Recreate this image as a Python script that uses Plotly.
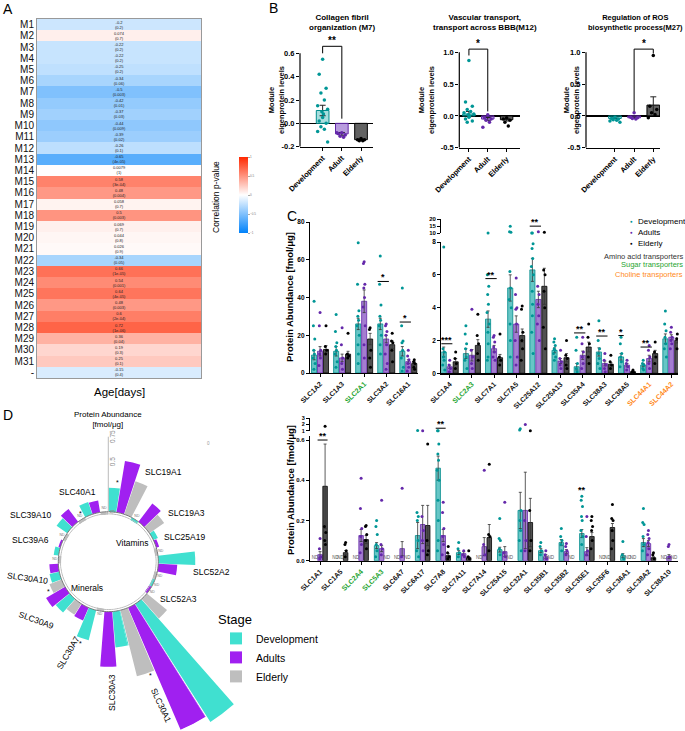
import math
import plotly.graph_objects as go

W, H = 685, 731
FONT = "Liberation Sans"


def fx(x):
    return x / W


def fy(y):
    return 1 - y / H


def dx(a, b):
    return [max(0, fx(a)), min(1, fx(b))]


def dy(top, bottom):
    return [max(0, fy(bottom)), min(1, fy(top))]


# ---------------- Panel A data ----------------
modules = [f"M{i}" for i in range(1, 32)] + ["-"]
corr = [-0.20, 0.074, -0.22, -0.22, -0.25, -0.34, -0.5, -0.42, -0.37, -0.44, -0.39, -0.26, -0.65, 0.0079,
        0.58, 0.48, 0.058, 0.5, 0.069, 0.044, 0.026, -0.34, 0.66, 0.54, 0.64, 0.48, 0.6, 0.72,
        0.36, 0.19, 0.25, -0.15]
pval = ["0.2", "0.7", "0.2", "0.2", "0.2", "0.06", "0.003", "0.01", "0.03", "0.009", "0.02", "0.1", "4e-05", "1",
        "3e-04", "0.004", "0.7", "0.003", "0.7", "0.8", "0.9", "0.05", "1e-05", "0.001", "4e-05", "0.003", "2e-04",
        "1e-06", "0.04", "0.3", "0.1", "0.4"]

# ---------------- Panel B data ----------------
b_groups = ["Development", "Adult", "Elderly"]
b_titles = ["Collagen fibril<br>organization (M7)", "Vascular transport,<br>transport across BBB(M12)",
            "Regulation of ROS<br>biosynthetic process(M27)"]
b1_mean = [0.11, -0.09, -0.14]
b1_sem = [0.045, 0.012, 0.006]
b1_dev = [0.55, 0.42, 0.30, 0.26, 0.20, 0.15, 0.12, 0.10, 0.08, 0.05, 0.02, 0.0, -0.03, -0.05, -0.07, -0.16]
b1_adult = [-0.08, -0.09, -0.10, -0.11, -0.12, -0.08]
b1_eld = [-0.13, -0.14, -0.14, -0.15, -0.15]
b2_mean = [0.03, -0.05, -0.06]
b2_sem = [0.04, 0.025, 0.02]
b2_dev = [0.87, 0.22, 0.15, 0.10, 0.07, 0.05, 0.03, 0.02, 0.0, -0.02, -0.05, -0.08, -0.10]
b2_adult = [0.02, -0.03, -0.05, -0.07, -0.10, -0.18]
b2_eld = [-0.03, -0.05, -0.07, -0.10, -0.16]
b3_mean = [-0.04, -0.03, 0.17]
b3_sem = [0.005, 0.01, 0.13]
b3_dev = [-0.02, -0.04, -0.05, -0.06, -0.07, -0.08, -0.10]
b3_adult = [0.05, -0.02, -0.03, -0.04, -0.05]
b3_eld = [0.95, 0.15, 0.10, 0.05, 0.02, -0.03]
# (from group, to group, left leg end, bracket height, right leg end, label)
b1_sig = (0, 1, 0.60, 0.66, 0.04, "**")
b2_sig = (0, 1, 0.95, 1.05, 0.07, "*")
b3_sig = (1, 2, 0.07, 1.05, 0.98, "*")

# ---------------- Panel C data ----------------
c_stages = ["Development", "Adults", "Elderly"]
c1_genes = ["SLC1A2", "SLC1A3", "SLC2A1", "SLC3A2", "SLC16A1"]
c1_mean_dev = [9.5, 11.5, 26, 26, 11.5]
c1_sem_dev = [2.5, 2.5, 3, 3, 2.5]
c1_mean_adult = [11.5, 8, 38, 18, 6]
c1_sem_adult = [2.5, 2, 6, 2, 1]
c1_mean_eld = [12.5, 10, 18, 15, 5]
c1_sem_eld = [2, 1.5, 3, 2, 1]
c1_pts_dev = [[38, 25, 18, 12, 10, 8, 5, 2], [31, 22, 16, 14, 12, 10, 6, 3],
              [69, 47, 33, 30, 28, 25, 20, 15, 10, 5], [62, 47, 36, 30, 28, 25, 20, 15, 10],
              [45, 25, 17, 16, 12, 8, 3, 1]]
c1_pts_adult = [[32, 25, 12, 10, 8, 4], [24, 15, 8, 5, 2], [59, 58, 47, 45, 40, 35, 25, 15, 8],
                [26, 25, 22, 20, 15, 10, 5, 2], [12, 9, 7, 5, 3, 1]]
c1_pts_eld = [[25, 14, 12, 10], [21, 10, 9, 8], [24, 23, 12, 8, 3], [21, 17, 16, 12, 6], [7, 6, 5, 3, 2]]
c1_sig = [("SLC3A2", 0, 1, 48.5, "*"), ("SLC16A1", 0, 1, 27, "*")]

c2_genes = ["SLC1A4", "SLC2A3", "SLC7A1", "SLC7A5", "SLC25A12", "SLC25A13", "SLC35A4", "SLC38A3", "SLC38A5",
            "SLC44A1", "SLC44A2"]
c2_mean_dev = [1.3, 1.2, 3.3, 5.2, 6.3, 1.4, 0.4, 1.3, 1.0, 0.5, 2.1]
c2_sem_dev = [0.3, 0.3, 0.5, 0.8, 0.7, 0.15, 0.2, 0.25, 0.2, 0.1, 0.3]
c2_mean_adult = [0.4, 1.1, 1.5, 3.0, 4.5, 0.75, 1.1, 0.6, 0.5, 0.9, 2.2]
c2_sem_adult = [0.1, 0.35, 0.2, 0.5, 0.5, 0.15, 0.25, 0.15, 0.1, 0.2, 0.15]
c2_mean_eld = [0.7, 1.7, 0.95, 2.3, 5.3, 0.95, 1.6, 0.55, 0.1, 1.2, 2.0]
c2_sem_eld = [0.2, 0.35, 0.2, 0.4, 1.1, 0.25, 0.3, 0.1, 0.05, 0.2, 0.15]
c2_pts_dev = [[7.7, 1.5, 1.3, 1.0, 0.8, 0.5, 0.2], [2.9, 2.4, 1.8, 1.5, 1.0, 0.8, 0.3],
              [10, 6.0, 5.3, 4.8, 4.2, 3.7, 3.0, 2.5, 1.8, 1.0, 0.8], [15, 11, 10.5, 6.2, 5.2, 4.5, 4.0, 3.0, 2.0, 1.0],
              [10, 10, 7.9, 7.6, 7.0, 6.5, 6.0, 5.0, 4.2, 3.5, 2.5, 1.2], [2.1, 1.9, 1.7, 1.5, 1.4, 1.2, 1.0, 0.8],
              [2.2, 1.4, 0.6, 0.3, 0.1], [3.2, 2.0, 1.5, 1.2, 0.9, 0.6, 0.3], [2.2, 1.8, 1.2, 1.0, 0.7, 0.4],
              [0.8, 0.6, 0.5, 0.3, 0.2], [3.8, 3.0, 2.6, 2.2, 1.8, 1.5, 1.0]]
c2_pts_adult = [[0.8, 0.5, 0.3, 0.1], [3.9, 1.4, 1.0, 0.6, 0.3], [2.3, 2.2, 1.9, 1.6, 1.3, 1.0, 0.8],
                [5.8, 4.8, 4.0, 3.9, 3.0, 2.0, 1.0, 0.5], [11, 5.3, 4.8, 4.2, 3.5, 3.0, 2.0], [1.4, 0.9, 0.7, 0.5, 0.3],
                [2.2, 1.8, 1.3, 1.0, 0.6, 0.3], [1.2, 0.8, 0.5, 0.3, 0.1], [0.8, 0.6, 0.4, 0.2],
                [1.7, 1.4, 1.0, 0.6, 0.3], [2.8, 2.5, 2.2, 2.0, 1.8, 1.5]]
c2_pts_eld = [[1.3, 0.9, 0.6, 0.3], [3.6, 2.3, 1.8, 1.2, 0.8], [2.4, 1.0, 0.8, 0.5], [4.1, 3.9, 2.5, 2.0, 1.5, 0.8],
              [10.5, 6.3, 6.0, 5.0, 4.0, 2.8, 1.5], [2.0, 1.1, 0.9, 0.5, 0.3], [3.0, 2.2, 1.8, 1.0, 0.6],
              [1.1, 0.7, 0.5, 0.3], [0.2, 0.1, 0.05], [1.9, 1.3, 1.0, 0.6], [2.4, 2.1, 1.8, 1.5]]
c2_sig = [("SLC1A4", 0, 1, 1.8, "***", False), ("SLC7A1", 0, 1, 5.77, "**", False),
          ("SLC25A12", 0, 1, 15, "**", True), ("SLC35A4", 0, 1, 2.46, "**", False),
          ("SLC38A3", 0, 1, 2.27, "**", False), ("SLC38A5", 0, 0, 2.3, "*", False),
          ("SLC44A1", 0, 1, 1.6, "**", False)]

c3_genes = ["SLC1A1", "SLC1A5", "SLC2A4", "SLC5A3", "SLC6A7", "SLC6A17", "SLC7A8", "SLC7A11", "SLC7A14",
            "SLC25A15", "SLC32A1", "SLC35B1", "SLC35B2", "SLC35E1", "SLC35F6", "SLC36A1", "SLC38A2", "SLC38A10"]
c3_mean_dev = [None, None, None, 0.075, None, 0.125, 0.46, 0.04, None, 0.055, 0.25, 0.05, 0.09, 0.135, None, 0.025,
               0.09, None]
c3_sem_dev = [None, None, None, 0.015, None, 0.065, 0.06, 0.01, None, 0.012, 0.09, 0.01, 0.015, 0.02, None, 0.01,
              0.02, None]
c3_mean_adult = [0.03, None, 0.125, 0.06, 0.06, 0.18, 0.125, 0.035, 0.07, 0.045, 0.25, 0.02, 0.045, 0.045, None,
                 None, 0.085, 0.02]
c3_sem_adult = [0.015, None, 0.03, 0.015, 0.035, 0.095, 0.03, 0.01, 0.045, 0.025, 0.19, 0.01, 0.01, 0.02, None,
                None, 0.015, 0.01]
c3_mean_eld = [0.37, 0.04, 0.105, None, None, 0.175, 0.025, 0.015, 0.115, None, 0.19, None, None, 0.12, 0.165,
               None, 0.015, None]
c3_sem_eld = [0.21, 0.01, 0.02, None, None, 0.1, 0.01, 0.005, 0.065, None, 0.12, None, None, 0.02, 0.02, None,
              0.005, None]
c3_pts_dev = [[], [], [], [0.2, 0.17, 0.13, 0.08, 0.05, 0.02], [], [1.05, 0.24, 0.22, 0.2, 0.1, 0.05, 0.02],
              [1.0, 1.0, 0.58, 0.53, 0.5, 0.45, 0.4, 0.3, 0.2, 0.1, 0.05], [0.09, 0.06, 0.04, 0.02], [],
              [0.21, 0.11, 0.1, 0.06, 0.03], [1.3, 1.1, 0.25, 0.2, 0.15, 0.1, 0.05], [0.09, 0.07, 0.05, 0.03],
              [0.16, 0.12, 0.1, 0.08, 0.05], [0.32, 0.3, 0.27, 0.22, 0.2, 0.15, 0.12, 0.08], [],
              [0.095, 0.03, 0.01], [0.26, 0.19, 0.18, 0.12, 0.08, 0.05], []]
c3_pts_adult = [[0.11, 0.06, 0.02, 0.01], [], [0.41, 0.26, 0.16, 0.12, 0.08, 0.04], [0.3, 0.08, 0.06, 0.03],
                [0.36, 0.02], [1.0, 0.22, 0.15, 0.1, 0.05], [0.29, 0.24, 0.16, 0.12, 0.08, 0.03], [0.05, 0.03, 0.02],
                [0.45, 0.08, 0.03], [0.29, 0.04, 0.02], [2.0, 0.2, 0.1, 0.05], [0.05, 0.03, 0.01],
                [0.085, 0.07, 0.05, 0.03], [0.22, 0.12, 0.05, 0.03], [], [], [0.15, 0.13, 0.11, 0.09, 0.06, 0.03],
                [0.08, 0.07, 0.02]]
c3_pts_eld = [[1.7, 0.17, 0.14, 0.1, 0.08], [0.09, 0.08, 0.05, 0.02], [0.175, 0.17, 0.13, 0.1, 0.06], [], [],
              [0.58, 0.1, 0.05, 0.03], [0.07, 0.04, 0.02, 0.01], [0.05, 0.02, 0.01], [0.48, 0.13, 0.12, 0.05], [],
              [1.0, 0.25, 0.1, 0.05], [], [], [0.22, 0.2, 0.17, 0.15, 0.1, 0.06], [0.28, 0.21, 0.2, 0.15, 0.1, 0.06],
              [], [0.04, 0.03, 0.01], []]
c3_sig = [("SLC1A1", 1, 2, 0.6, "**", False, True), ("SLC7A8", 0, 1, 1.4, "**", True, True),
          ("SLC35E1", 0, 0, 0.33, "**", False, False)]

sugar_genes = {"SLC2A1", "SLC2A3", "SLC2A4", "SLC5A3"}
choline_genes = {"SLC44A1", "SLC44A2"}

# ---------------- Panel D data ----------------
d_genes = ["SLC19A1", "SLC19A3", "SLC25A19", "SLC52A2", "SLC52A3", "SLC30A1", "SLC30A3", "SLC30A7", "SLC30A9",
           "SLC30A10", "SLC39A6", "SLC39A10", "SLC40A1"]
d_stages = ["Development", "Adults", "Elderly"]
d_dev = [0.24, None, 0.05, 0.37, None, 1.40, 0.36, 0.31, 0.18, 0.10, 0.05, 0.13, 0.13]
d_adult = [0.52, 0.23, 0.03, 0.19, None, 1.33, 0.55, 0.14, 0.22, 0.09, 0.02, 0.16, 0.12]
d_eld = [0.35, 0.18, None, None, 0.26, 0.68, None, 0.13, 0.13, None, None, None, None]
d_radial_ticks = [0, 0.5, 0.75]

# ---------------- styling ----------------
TEAL = "rgb(0,150,150)"
PURP = "rgb(100,40,170)"
BLK = "rgb(0,0,0)"
GREEN = "#1fa531"
ORANGE = "#ff8a1c"
pt_col = [TEAL, PURP, BLK]
b_fill = ["rgba(0,160,160,0.35)", "rgba(125,75,195,0.55)", "rgba(90,90,90,0.95)"]
b_edge = ["rgb(0,140,140)", "rgb(100,40,170)", "rgb(0,0,0)"]
c_fill = ["rgba(0,160,160,0.6)", "rgba(115,55,185,0.65)", "rgba(65,65,65,0.92)"]
d_col = ["#40E0D0", "#A020F0", "#BEBEBE"]
JIT = [0, -0.09, 0.09, -0.045, 0.045, -0.13, 0.13, -0.02, 0.02]

fig = go.Figure()
ann = []
shapes = []


def T(x, y, text, size=9, color="black", bold=False, angle=0, xanchor="center", yanchor="middle", align="center"):
    ann.append(dict(x=fx(x), y=fy(y), xref="paper", yref="paper",
                    text=(f"<b>{text}</b>" if bold else text), showarrow=False,
                    font=dict(size=size, color=color, family=FONT), textangle=angle,
                    xanchor=xanchor, yanchor=yanchor, align=align))


# ================= Panel A =================
fig.add_trace(go.Heatmap(
    z=[[c] for c in corr], x=["Age"], y=modules,
    text=[[f"{c:.2g}<br>({p})"] for c, p in zip(corr, pval)], texttemplate="%{text}",
    textfont=dict(size=4, color="#222", family=FONT),
    colorscale=[[0, "rgb(0,130,250)"], [0.5, "rgb(255,255,255)"], [1, "rgb(255,40,0)"]],
    zmin=-1, zmax=1, hoverinfo="skip",
    colorbar=dict(x=fx(229), xanchor="left", y=fy(195), yanchor="middle", len=96 / H, lenmode="fraction",
                  thickness=9, outlinewidth=0, tickvals=[-1, -0.5, 0, 0.5, 1],
                  tickfont=dict(size=3, color="#777"), ticks="outside", ticklen=2, tickcolor="#aaa"),
    xaxis="x", yaxis="y"))

# ================= Panel B =================
b_axes = [("x2", "y2"), ("x3", "y3"), ("x4", "y4")]
b_means = [b1_mean, b2_mean, b3_mean]
b_sems = [b1_sem, b2_sem, b3_sem]
b_pts = [[b1_dev, b1_adult, b1_eld], [b2_dev, b2_adult, b2_eld], [b3_dev, b3_adult, b3_eld]]
b_sigs = [b1_sig, b2_sig, b3_sig]
for k, (xa, ya) in enumerate(b_axes):
    fig.add_trace(go.Bar(x=[0, 1, 2], y=b_means[k], width=0.66, xaxis=xa, yaxis=ya,
                         marker=dict(color=b_fill, line=dict(color=b_edge, width=1)),
                         error_y=dict(type="data", array=b_sems[k], color="#222", thickness=1, width=3),
                         showlegend=False, hoverinfo="skip"))
    for s in range(3):
        vals = b_pts[k][s]
        fig.add_trace(go.Scatter(x=[s + JIT[j % len(JIT)] * 2.0 for j in range(len(vals))], y=vals,
                                 mode="markers", marker=dict(size=3.5, color=pt_col[s]), xaxis=xa, yaxis=ya,
                                 showlegend=False, cliponaxis=False, hoverinfo="skip"))
    g0, g1, yl, yt, yr, lab = b_sigs[k]
    fig.add_trace(go.Scatter(x=[g0, g0, g1, g1], y=[yl, yt, yt, yr], mode="lines",
                             line=dict(color="black", width=1), xaxis=xa, yaxis=ya, showlegend=False,
                             cliponaxis=False, hoverinfo="skip"))
    ann.append(dict(x=(g0 + g1) / 2, y=yt, xref=xa, yref=ya, text=f"<b>{lab}</b>", showarrow=False,
                    yanchor="bottom", yshift=-2, font=dict(size=10, family=FONT)))

# ================= Panel C =================
def glab(g):
    col = GREEN if g in sugar_genes else (ORANGE if g in choline_genes else "#111")
    return f"<span style='color:{col}'>{g}</span>"


def c_panel(genes, means, sems, pts, xa, ya, ya_up, thr, offs, width, nd_y):
    for s in range(3):
        xs = [i + offs[s] for i in range(len(genes))]
        fig.add_trace(go.Bar(x=xs, y=means[s], width=width, xaxis=xa, yaxis=ya,
                             marker=dict(color=c_fill[s], line=dict(color=b_edge[s], width=0.8)),
                             error_y=dict(type="data", array=sems[s], color="#333", thickness=0.8, width=1.5),
                             showlegend=False, hoverinfo="skip"))
        lo_x, lo_y, up_x, up_y = [], [], [], []
        for i, vals in enumerate(pts[s]):
            for j, v in enumerate(vals):
                xv = i + offs[s] + JIT[j % len(JIT)] * 0.35
                if thr is not None and v > thr:
                    up_x.append(xv)
                    up_y.append(v)
                else:
                    lo_x.append(xv)
                    lo_y.append(v)
        fig.add_trace(go.Scatter(x=lo_x, y=lo_y, mode="markers", marker=dict(size=3, color=pt_col[s]),
                                 xaxis=xa, yaxis=ya, showlegend=False, cliponaxis=False, hoverinfo="skip"))
        if up_x:
            fig.add_trace(go.Scatter(x=up_x, y=up_y, mode="markers", marker=dict(size=3, color=pt_col[s]),
                                     xaxis=xa, yaxis=ya_up, showlegend=False, cliponaxis=False,
                                     hoverinfo="skip"))
        nd_x = [i + offs[s] for i, m in enumerate(means[s]) if m is None]
        if nd_x and nd_y is not None:
            fig.add_trace(go.Scatter(x=nd_x, y=[nd_y] * len(nd_x), mode="text", text=["ND"] * len(nd_x),
                                     textfont=dict(size=4.5, color="#555", family=FONT), xaxis=xa, yaxis=ya,
                                     showlegend=False, cliponaxis=False, hoverinfo="skip"))


def c_sig(genes, sig, offs, xa, ya, ya_up):
    for item in sig:
        g, s0, s1, yv, lab, up = item[:6]
        draw_line = item[6] if len(item) > 6 else True
        i = genes.index(g)
        yax = ya_up if up else ya
        x0 = i + offs[s0] - 0.12
        x1 = i + offs[s1] + 0.12
        if draw_line:
            fig.add_trace(go.Scatter(x=[x0, x1], y=[yv, yv], mode="lines", line=dict(color="black", width=1),
                                     xaxis=xa, yaxis=yax, showlegend=False, cliponaxis=False, hoverinfo="skip"))
        ann.append(dict(x=(x0 + x1) / 2, y=yv, xref=xa, yref=yax, text=f"<b>{lab}</b>", showarrow=False,
                        yanchor="bottom", yshift=-3, font=dict(size=9, family=FONT)))


off_top = [-0.27, 0, 0.27]
off_bot = [-0.245, 0, 0.245]
c_panel(c1_genes, [c1_mean_dev, c1_mean_adult, c1_mean_eld], [c1_sem_dev, c1_sem_adult, c1_sem_eld],
        [c1_pts_dev, c1_pts_adult, c1_pts_eld], "x5", "y5", None, None, off_top, 0.23, None)
c_sig(c1_genes, [(a, b, c, d, e, False) for a, b, c, d, e in c1_sig], off_top, "x5", "y5", None)
c_panel(c2_genes, [c2_mean_dev, c2_mean_adult, c2_mean_eld], [c2_sem_dev, c2_sem_adult, c2_sem_eld],
        [c2_pts_dev, c2_pts_adult, c2_pts_eld], "x6", "y6", "y7", 8, off_top, 0.23, None)
c_sig(c2_genes, c2_sig, off_top, "x6", "y6", "y7")
c_panel(c3_genes, [c3_mean_dev, c3_mean_adult, c3_mean_eld], [c3_sem_dev, c3_sem_adult, c3_sem_eld],
        [c3_pts_dev, c3_pts_adult, c3_pts_eld], "x8", "y8", "y9", 0.6, off_bot, 0.22, 0.012)
c_sig(c3_genes, c3_sig, off_bot, "x8", "y8", "y9")


# ================= Panel D =================
def sector_bbox(s0, s1):
    arc = s1 - s0
    a0 = s0 % 360
    a1 = a0 + arc
    ax0, ay0 = math.cos(math.radians(a0)), math.sin(math.radians(a0))
    ax1, ay1 = math.cos(math.radians(a1)), math.sin(math.radians(a1))
    if (a0 <= 90 and a1 >= 90) or (a0 > 90 and a1 >= 450):
        y1 = 1
    elif ay0 <= 0 and ay1 <= 0:
        y1 = 0
    else:
        y1 = max(ay0, ay1)
    if (a0 <= 180 and a1 >= 180) or (a0 > 180 and a1 >= 540):
        x0 = -1
    elif ax0 >= 0 and ax1 >= 0:
        x0 = 0
    else:
        x0 = min(ax0, ax1)
    if (a0 <= 270 and a1 >= 270) or (a0 > 270 and a1 >= 630):
        y0 = -1
    elif ay0 >= 0 and ay1 >= 0:
        y0 = 0
    else:
        y0 = min(ay0, ay1)
    if a1 >= 360:
        x1 = 1
    elif ax0 <= 0 and ax1 <= 0:
        x1 = 0
    else:
        x1 = max(ax0, ax1)
    return x0, y0, x1, y1


CX, CY = 108.3, 561.7      # centre of the radial chart (px)
HOLE = 47                  # hole radius (px)
KPX = 100                  # px per unit of abundance
RMIN = -0.03
# the circular chart is split into sectors so it can reach past the panel edges
sectors = [("polar", -58, 92, 192), ("polar2", -67, -58, 183.5), ("polar3", -77, -67, 150),
           ("polar4", 92, 283, 108.3)]
n_slots = 3 * len(d_genes)
step = 360 / n_slots
d_vals = [d_dev, d_adult, d_eld]
ring_theta = list(range(0, 362, 2))
polar_layouts = {}
for name, s0, s1, R in sectors:
    x0, y0, x1, y1 = sector_bbox(s0, s1)
    main = name == "polar"
    polar_layouts[name] = dict(
        domain=dict(x=dx(CX + x0 * R, CX + x1 * R), y=dy(CY - y1 * R, CY - y0 * R)),
        sector=[s0, s1], hole=HOLE / R, bgcolor="rgba(0,0,0,0)",
        radialaxis=dict(range=[RMIN, (R - HOLE) / KPX + RMIN], showgrid=False, showline=False, ticks="",
                        visible=main, showticklabels=main, tickvals=d_radial_ticks, angle=90,
                        tickfont=dict(size=6.5, color="#888", family=FONT)),
        angularaxis=dict(rotation=90, direction="clockwise", showgrid=False, showline=False,
                         showticklabels=False, ticks=""))
    for s in range(3):
        th = [(3 * g + s + 0.5) * step for g in range(len(d_genes))]
        fig.add_trace(go.Barpolar(r=d_vals[s], theta=th, width=[step * 0.96] * len(th), subplot=name,
                                  marker=dict(color=d_col[s], line=dict(width=0)), name=d_stages[s],
                                  showlegend=main, legend="legend", hoverinfo="skip"))
        nd_th = [(3 * g + s + 0.5) * step for g in range(len(d_genes)) if d_vals[s][g] is None]
        fig.add_trace(go.Scatterpolar(r=[0.035] * len(nd_th), theta=nd_th, mode="text", text=["ND"] * len(nd_th),
                                      textfont=dict(size=3.5, color="#777", family=FONT), subplot=name,
                                      showlegend=False, hoverinfo="skip"))
    fig.add_trace(go.Scatterpolar(r=[0] * len(ring_theta), theta=ring_theta, mode="lines",
                                  line=dict(color="#777", width=1), subplot=name, showlegend=False,
                                  hoverinfo="skip"))
    fig.add_trace(go.Scatterpolar(r=[RMIN + 0.008] * len(ring_theta), theta=ring_theta, mode="lines",
                                  line=dict(color="#bbb", width=1), subplot=name, showlegend=False,
                                  hoverinfo="skip"))
    if main:
        fig.add_trace(go.Scatterpolar(r=[0, max(d_radial_ticks)], theta=[0, 0], mode="lines",
                                      line=dict(color="#bbb", width=1), subplot=name, showlegend=False,
                                      hoverinfo="skip"))

# ================= text / annotations =================
T(8, 9, "A", size=14)
T(273, 8, "B", size=14)
T(292, 216, "C", size=14)
T(8, 415, "D", size=14)

T(119, 392, "Age[days]", size=11.5)
T(216, 197, "Correlation p-value", size=8.5, angle=-90)

T(342, 23, b_titles[0], size=8, bold=True)
T(485, 23, b_titles[1], size=8, bold=True)
T(685, 23, b_titles[2], size=7.5, bold=True, xanchor="right")
for xx in [277, 427, 572]:
    T(xx, 100, "Module<br>eigenprotein levels", size=7.5, bold=True, angle=-90)

T(290, 297, "Protein Abundance [fmol/μg]", size=9.5, bold=True, angle=-90)
T(290, 490, "Protein Abundance [fmol/μg]", size=9.5, bold=True, angle=-90)

legend_c = [("Development", 221), ("Adults", 232), ("Elderly", 243)]
for s, (nm, yy) in enumerate(legend_c):
    T(631, yy, "●", size=4.5, color=pt_col[s])
    T(636, yy, nm, size=8, xanchor="left")
T(685, 256, "Amino acid transporters", size=7.5, color="#333", xanchor="right")
T(685, 265, "Sugar transporters", size=7.5, color=GREEN, xanchor="right")
T(685, 274, "Choline transporters", size=7.5, color=ORANGE, xanchor="right")

T(108, 419, "Protein Abundance<br>[fmol/μg]", size=8)
T(208, 443, "0", size=4.5, color="#999")
T(132, 543, "Vitamins", size=8.5)
T(87, 588, "Minerals", size=8.5)
d_label_pos = [(163, 472, 0), (186, 513, 0), (184, 537, 0), (211, 572, 0), (178, 599, 0), (161, 705, 65),
               (112, 693, -90), (68, 653, -60), (36, 620, 20), (27, 578, 8), (30, 540, 0), (30, 515, 0),
               (77, 492, 0)]
for g, (xx, yy, ang) in zip(d_genes, d_label_pos):
    T(xx, yy, g, size=8.5, angle=ang)
for xx, yy in [(117, 482), (80, 513), (49, 591), (80, 643), (150, 675)]:
    T(xx, yy, "*", size=7)

# y-axis lines for panel B (stop at the last tick, as in the reference)
b_line_ranges = [(-0.2, 0.6), (-0.5, 1.0), (-0.5, 1.0)]
for (xa, ya), (lo, hi) in zip(b_axes, b_line_ranges):
    shapes.append(dict(type="line", xref=f"{xa} domain", yref=ya, x0=0, x1=0, y0=lo, y1=hi,
                       line=dict(color="black", width=1.2)))

# ================= axes =================
tick_b = dict(family=FONT, size=7.5, color="black", weight="bold")
common_x = dict(showline=True, linecolor="black", linewidth=1.2, ticks="outside", ticklen=3, tickwidth=1,
                tickcolor="black", showgrid=False, zeroline=False, tickangle=-45, tickfont=tick_b)
common_y = dict(showline=True, linecolor="black", linewidth=1.2, ticks="outside", ticklen=3, tickwidth=1,
                tickcolor="black", showgrid=False, zeroline=False, tickfont=tick_b)

layout = dict(
    width=W, height=H, margin=dict(l=0, r=0, t=0, b=0, autoexpand=False),
    paper_bgcolor="white", plot_bgcolor="rgba(0,0,0,0)", barmode="overlay",
    font=dict(family=FONT, color="black"),
    xaxis=dict(domain=dx(37, 201), showticklabels=False, ticks="", showline=True, mirror=True,
               linecolor="#999", linewidth=1, anchor="y"),
    yaxis=dict(domain=dy(19, 378), autorange="reversed", ticks="", showline=True, mirror=True,
               tickmode="array", tickvals=modules, ticktext=modules,
               linecolor="#999", linewidth=1, tickfont=dict(size=10, family=FONT, color="#111"), anchor="x"),
    showlegend=True,
    legend=dict(x=fx(216), y=fy(607), xanchor="left", yanchor="top", bgcolor="rgba(0,0,0,0)",
                title=dict(text="Stage", font=dict(size=13, family=FONT)), font=dict(size=10.5, family=FONT),
                tracegroupgap=0, itemwidth=30),
    annotations=ann, shapes=shapes,
)

b_dom_x = [(300, 373.3), (459.3, 520), (586, 660)]
b_rng_x = [[-1.18, 2.64], [-0.51, 2.71], [-1.51, 2.35]]
b_dom_y = [(35.8, 146.7), (36.4, 147.7), (36.4, 147.7)]
b_rng_y = [[-0.2, 0.75], [-0.5, 1.25], [-0.5, 1.25]]
b_ticks = [[-0.2, 0.0, 0.2, 0.4, 0.6], [-0.5, 0.0, 0.5, 1.0], [-0.5, 0.0, 0.5, 1.0]]
for k, (xa, ya) in enumerate(b_axes):
    xi = xa[1:]
    yi = ya[1:]
    layout[f"xaxis{xi}"] = dict(common_x, domain=dx(*b_dom_x[k]), range=b_rng_x[k], tickvals=[0, 1, 2],
                                ticktext=b_groups, anchor=ya)
    layout[f"yaxis{yi}"] = dict(common_y, domain=dy(*b_dom_y[k]), range=b_rng_y[k], tickvals=b_ticks[k],
                                ticktext=[f"{t:.1f}" for t in b_ticks[k]], showline=False, zeroline=True,
                                zerolinecolor="black", zerolinewidth=1.2, anchor=xa)

layout["xaxis5"] = dict(common_x, domain=dx(310, 418), range=[-0.455, 4.44], tickvals=list(range(len(c1_genes))),
                        ticktext=[glab(g) for g in c1_genes], anchor="y5", tickfont=dict(tick_b, size=7))
layout["yaxis5"] = dict(common_y, domain=dy(222, 373), range=[0, 80], tickvals=[0, 20, 40, 60, 80], anchor="x5",
                        tickfont=dict(tick_b, size=6.5))
layout["xaxis6"] = dict(common_x, domain=dx(441.3, 678), range=[-0.38, 10.3], tickvals=list(range(len(c2_genes))),
                        ticktext=[glab(g) for g in c2_genes], anchor="y6", tickfont=dict(tick_b, size=7))
layout["yaxis6"] = dict(common_y, domain=dy(242, 373.3), range=[0, 8], tickvals=[0, 2, 4, 6, 8], anchor="x6",
                        tickfont=dict(tick_b, size=6.5))
layout["yaxis7"] = dict(common_y, domain=dy(219.3, 233), range=[10, 20], tickvals=[10, 15, 20], anchor="x6",
                        tickfont=dict(tick_b, size=6))
layout["xaxis8"] = dict(common_x, domain=dx(310, 678), range=[-0.49, 17.44], tickvals=list(range(len(c3_genes))),
                        ticktext=[glab(g) for g in c3_genes], anchor="y8", tickfont=dict(tick_b, size=7))
layout["yaxis8"] = dict(common_y, domain=dy(436, 560.7), range=[0, 0.62], tickvals=[0, 0.2, 0.4, 0.6],
                        ticktext=["0.0", "0.2", "0.4", "0.6"], anchor="x8", tickfont=dict(tick_b, size=6))
layout["yaxis9"] = dict(common_y, domain=dy(418.3, 430.7), range=[1, 3], tickvals=[1, 2, 3], anchor="x8",
                        tickfont=dict(tick_b, size=5.5))
layout.update(polar_layouts)

fig.update_layout(**layout)
fig.write_html("out.html", config={"displayModeBar": False, "staticPlot": True},
               post_script="document.body.style.margin='0px';document.body.style.overflow='hidden';")
